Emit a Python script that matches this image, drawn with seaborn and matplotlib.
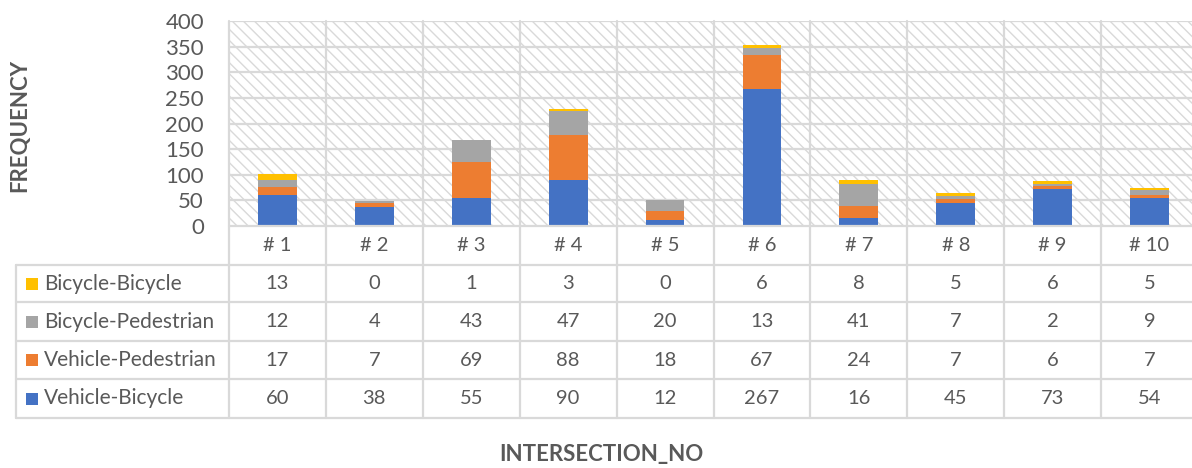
import numpy as np
import matplotlib
matplotlib.use("Agg")
import matplotlib.pyplot as plt
import matplotlib.transforms as mtransforms
from matplotlib.patches import Rectangle
from matplotlib.lines import Line2D
import seaborn as sns

# данные с графика
intersections = ['# 1', '# 2', '# 3', '# 4', '# 5', '# 6', '# 7', '# 8', '# 9', '# 10']
vehicle_bicycle = [60, 38, 55, 90, 12, 267, 16, 45, 73, 54]
vehicle_pedestrian = [17, 7, 69, 88, 18, 67, 24, 7, 6, 7]
bicycle_pedestrian = [12, 4, 43, 47, 20, 13, 41, 7, 2, 9]
bicycle_bicycle = [13, 0, 1, 3, 0, 6, 8, 5, 6, 5]

series_names = ['Vehicle-Bicycle', 'Vehicle-Pedestrian', 'Bicycle-Pedestrian', 'Bicycle-Bicycle']
series_colors = ['#4472C4', '#ED7D31', '#A5A5A5', '#FFC000']
series_values = [vehicle_bicycle, vehicle_pedestrian, bicycle_pedestrian, bicycle_bicycle]

sns.set_style('white')
plt.rcParams['font.family'] = ['Lato', 'DejaVu Sans']
plt.rcParams['hatch.linewidth'] = 1.0
txt = '#595959'
grid_c = '#D9D9D9'

W, H = 1192, 468
fig = plt.figure(figsize=(W / 100, H / 100), dpi=100)
ax = fig.add_axes([229 / W, 1 - 226 / H, (W - 229) / W, (226 - 21) / H])

# фон с косой штриховкой
ax.add_patch(Rectangle((0, 0), 1, 1, transform=ax.transAxes, facecolor='white',
                       edgecolor=grid_c, hatch='\\\\\\', linewidth=0, zorder=0))

# стек: рисуем накопленные суммы сверху вниз
cum = np.cumsum(np.array(series_values), axis=0)
for i in range(len(series_names) - 1, -1, -1):
    sns.barplot(x=intersections, y=cum[i], color=series_colors[i], width=0.4,
                saturation=1, ax=ax, zorder=3, linewidth=0)

ax.set_ylim(0, 400)
ax.set_xlim(-0.5, -0.5 + (W - 229) / 96.9)
ax.set_yticks(range(0, 401, 50))
ax.tick_params(axis='y', length=0, pad=18, labelsize=16, labelcolor=txt)
ax.set_xticks([])
ax.set_xlabel('')
ax.set_ylabel('')
for s in ax.spines.values():
    s.set_visible(False)
for y in range(50, 401, 50):
    ax.axhline(y, color=grid_c, lw=1.6, zorder=1)

def fy(px):
    return 1 - px / H

def fx(px):
    return px / W

blend = mtransforms.blended_transform_factory(ax.transData, fig.transFigure)

# вертикальные линии колонок
for k in range(len(intersections)):
    fig.add_artist(Line2D([k - 0.5, k - 0.5], [fy(21), fy(418)], transform=blend,
                          color=grid_c, lw=1.6))
# горизонтальные линии таблицы
fig.add_artist(Line2D([fx(229), 1], [fy(226), fy(226)], transform=fig.transFigure, color=grid_c, lw=1.6))
for ypx in [265, 302, 341, 379, 418]:
    fig.add_artist(Line2D([fx(16), 1], [fy(ypx), fy(ypx)], transform=fig.transFigure, color=grid_c, lw=1.6))
fig.add_artist(Line2D([fx(16), fx(16)], [fy(265), fy(418)], transform=fig.transFigure, color=grid_c, lw=1.6))

# подписи колонок
for k, lab in enumerate(intersections):
    fig.text(k, fy(245.5), lab, transform=blend, ha='center', va='center', fontsize=14.5, color=txt)

# строки таблицы (сверху вниз: Bicycle-Bicycle ... Vehicle-Bicycle)
row_centers = [283.5, 321.5, 360, 398.5]
for r, i in enumerate(range(len(series_names) - 1, -1, -1)):
    yc = fy(row_centers[r])
    fig.add_artist(Rectangle((fx(26), yc - 6 / H), 12 / W, 12 / H, transform=fig.transFigure,
                             facecolor=series_colors[i], edgecolor='none'))
    fig.text(fx(44), yc, series_names[i], ha='left', va='center', fontsize=15, color=txt)
    for k, v in enumerate(series_values[i]):
        fig.text(k, yc, str(v), transform=blend, ha='center', va='center', fontsize=14.5, color=txt)

fig.text(fx(20), fy(125), 'FREQUENCY', rotation=90, ha='center', va='center',
         fontsize=16, fontweight='bold', color=txt)
fig.text(fx(601), fy(455), 'INTERSECTION_NO', ha='center', va='center',
         fontsize=16, fontweight='bold', color=txt)

fig.savefig('out.png', dpi=100)
